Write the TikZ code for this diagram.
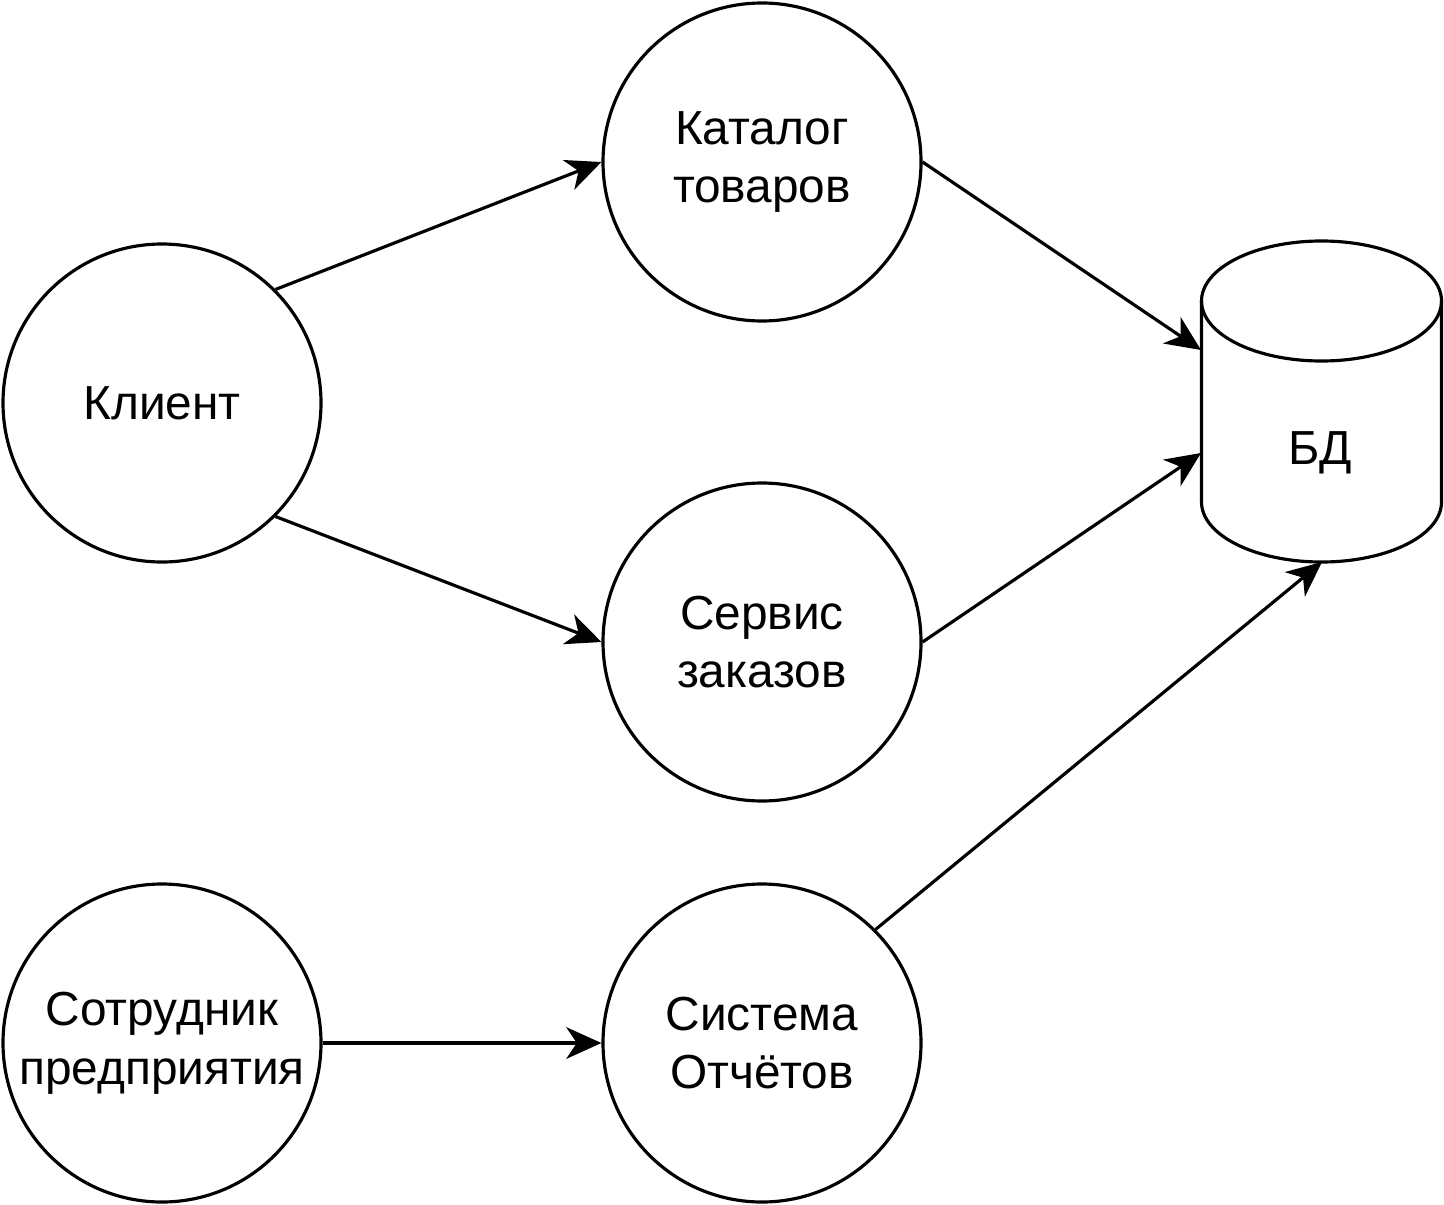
\documentclass[tikz,border=0pt]{standalone}
\usepackage{fontspec}
\setmainfont{Liberation Sans}
\usepackage{tikz}
\usetikzlibrary{arrows.meta}

\begin{document}
\begin{tikzpicture}[
  font=\fontsize{13.6}{16.7}\selectfont,
  >={Stealth[length=10pt,width=9pt,inset=3pt]},
  actor/.style={
    draw, circle, line width=0.9pt,
    minimum size=3.18cm, inner sep=0pt,
    align=center
  },
  arr/.style={->, line width=0.9pt}
]
  \useasboundingbox (0,0) rectangle (14.44,-12.04);

  % Users and services
  \node[actor] (client)  at (1.62,-4.03)  {Клиент};
  \node[actor] (catalog) at (7.62,-1.62)  {Каталог\\товаров};
  \node[actor] (orders)  at (7.62,-6.42)  {Сервис\\заказов};
  \node[actor] (staff)   at (1.62,-10.43) {Сотрудник\\предприятия};
  \node[actor] (reports) at (7.62,-10.43) {Система\\Отчётов};

  % Database cylinder
  \draw[line width=0.9pt] (14.415,-3.01)
    arc[start angle=0, end angle=360, x radius=1.2, y radius=0.6];
  \draw[line width=0.9pt] (12.015,-3.01) -- (12.015,-5.02)
    arc[start angle=180, end angle=360, x radius=1.2, y radius=0.6]
    -- (14.415,-3.01);
  \node (db) at (13.2,-4.53) {БД};
  \coordinate (dbin1) at (12.01,-3.50);
  \coordinate (dbin2) at (12.01,-4.53);
  \coordinate (dbin3) at (13.22,-5.62);

  % Flows
  \draw[arr] (client.45) -- (catalog.west);
  \draw[arr] (client.-45) -- (orders.west);
  \draw[arr] (staff.east) -- (reports.west);
  \draw[arr] (catalog.east) -- (dbin1);
  \draw[arr] (orders.east) -- (dbin2);
  \draw[arr] (reports.45) -- (dbin3);

\end{tikzpicture}
\end{document}
